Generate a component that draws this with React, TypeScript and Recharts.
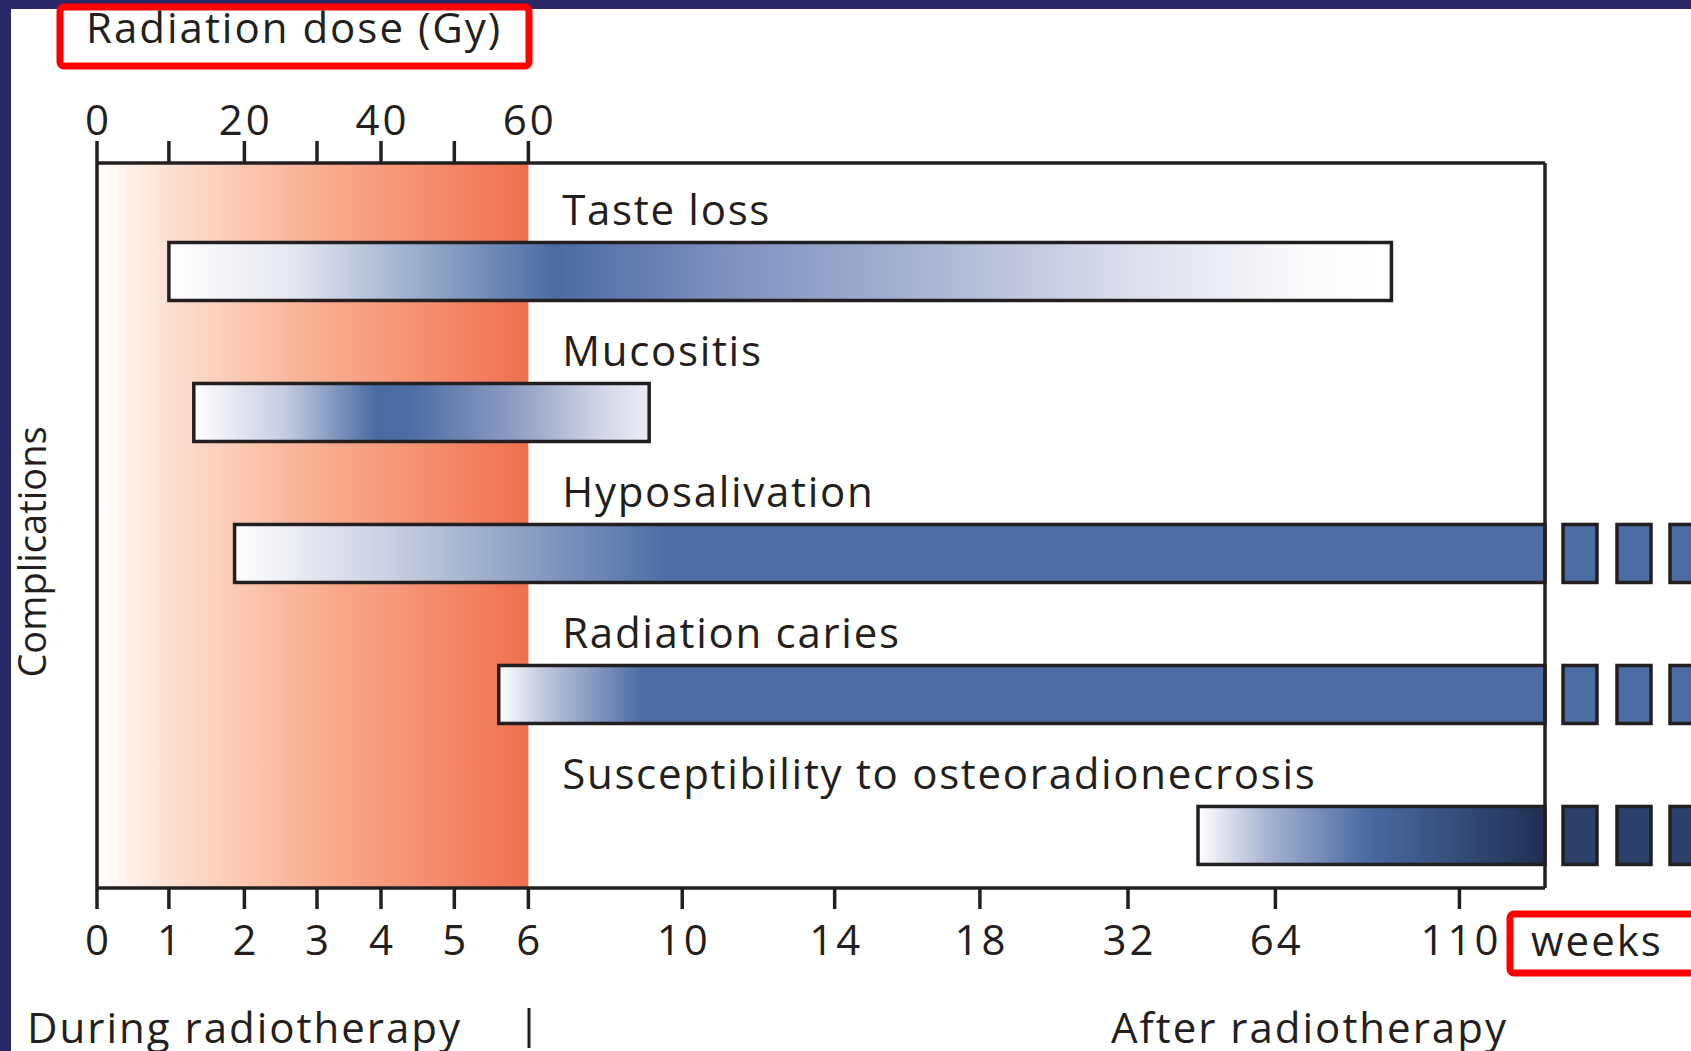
import React from 'react';
import { BarChart, Bar, XAxis, YAxis, ReferenceArea, ReferenceLine } from 'recharts';

// ---- Non-linear time axis (weeks) : tick values and their place along the axis (axis units)
const weekTicks = [0, 1, 2, 3, 4, 5, 6, 10, 14, 18, 32, 64, 110];
const weekTickPos = [0, 1.0, 2.05, 3.06, 3.95, 4.97, 6.0, 8.14, 10.26, 12.28, 14.34, 16.39, 18.95];
const axisEndWeek = 131.5;
const axisEndPos = 20.14;
const radiotherapyWeeks = 6;

// ---- Dose axis (Gy), 10 Gy per week of radiotherapy
const doseTicks = [0, 10, 20, 30, 40, 50, 60];
const doseLabelled = [0, 20, 40, 60];
const gyPerWeek = 10;

// ---- Complications (row 0 at the top)
const complications = [
  'Taste loss',
  'Mucositis',
  'Hyposalivation',
  'Radiation caries',
  'Susceptibility to osteoradionecrosis',
];
const rows = [0, 1, 2, 3, 4];
const rowDomain = [-0.773, 4.369];
const onsetWeeks = [1, 1.33, 1.87, 5.6, 47.2];
const endWeeks = [93, 9.14, 131.5, 131.5, 131.5];
const ongoing = [false, false, true, true, true];
const labelWeek = 6.88;

const gradOffsets = [
  [0, 0.1, 0.317, 0.45, 0.65, 0.8, 0.93, 1],
  [0, 0.2, 0.4, 0.48, 0.7, 0.9, 1],
  [0, 0.12, 0.33, 1],
  [0, 0.05, 0.137, 1],
  [0, 0.2, 0.48, 1],
];
const gradColors = [
  ['#ffffff', '#e6e8f1', '#4a6ba2', '#7d8fbd', '#b3bcd8', '#dfe2ee', '#fbfbfd', '#ffffff'],
  ['#ffffff', '#c6cce1', '#4a6ba2', '#4d6ea4', '#8e9cc3', '#d3d7e7', '#eceef5'],
  ['#ffffff', '#c9cfe2', '#4c6ea4', '#4c6ea4'],
  ['#ffffff', '#b7c0d9', '#4b6ca2', '#4b6ca2'],
  ['#ffffff', '#a9b3d2', '#4b6ca2', '#1f2f52'],
];
const dashColors = ['', '', '#4b6da4', '#4b6da4', '#2b416b'];

const orangeOffsets = [0, 0.15, 0.35, 0.55, 0.8, 1];
const orangeColors = ['#ffffff', '#fde3d7', '#fbc6ae', '#f8a98c', '#f48a6b', '#f0704f'];

const INK = '#231f20';
const FONT = '"Open Sans", "Noto Sans", sans-serif';

function weekToPos(w: number): number {
  const xs = [...weekTicks, axisEndWeek];
  const ps = [...weekTickPos, axisEndPos];
  for (let i = 0; i < xs.length - 1; i++) {
    if (w <= xs[i + 1]) return ps[i] + ((w - xs[i]) / (xs[i + 1] - xs[i])) * (ps[i + 1] - ps[i]);
  }
  return ps[ps.length - 1];
}

const data = complications.map((name, i) => ({
  name,
  idx: i,
  row: rows[i],
  range: [weekToPos(onsetWeeks[i]), weekToPos(endWeeks[i])],
  labelPos: weekToPos(labelWeek),
  ongoing: ongoing[i],
}));

const BarShape = (props: any) => {
  const { x, y, width, height, payload } = props;
  const [s, e] = payload.range;
  const lx = x + ((payload.labelPos - s) / (e - s)) * width;
  const i = payload.idx;
  const dashes = payload.ongoing ? [18, 72, 125] : [];
  return (
    <g>
      <text x={lx} y={y - 17} fill={INK} fontSize={42} letterSpacing={1.7} fontFamily={FONT}>
        {payload.name}
      </text>
      <rect x={x} y={y} width={width} height={height} fill={`url(#grad${i})`} stroke={INK} strokeWidth={3.5} />
      {dashes.map((d) => (
        <rect key={d} x={x + width + d} y={y} width={34} height={height} fill={dashColors[i]} stroke={INK} strokeWidth={3.5} />
      ))}
    </g>
  );
};

const WeekTick = (props: any) => {
  const { x, y, index } = props;
  return (
    <text x={x + 1.5} y={y} dy={38} textAnchor="middle" fill={INK} fontSize={42} letterSpacing={3} fontFamily={FONT}>
      {weekTicks[index]}
    </text>
  );
};

const DoseTick = (props: any) => {
  const { x, y, index } = props;
  const d = doseTicks[index];
  if (!doseLabelled.includes(d)) return <g />;
  return (
    <text x={x + 1.5} y={y} textAnchor="middle" fill={INK} fontSize={42} letterSpacing={3} fontFamily={FONT}>
      {d}
    </text>
  );
};

export default function App() {
  return (
    <div style={{ position: 'absolute', left: 0, top: 0, width: 1691, height: 1051, background: '#2a2968', overflow: 'hidden' }}>
      <div style={{ position: 'absolute', left: 11, top: 9, width: 1680, height: 1042, background: '#ffffff' }} />
      <div style={{ position: 'absolute', left: 0, top: 0 }}>
        <BarChart
          width={1691}
          height={1051}
          data={data}
          layout="vertical"
          margin={{ top: 103, right: 146, bottom: 93, left: 97 }}
        >
          <defs>
            <linearGradient id="orange" x1="0" y1="0" x2="1" y2="0">
              {orangeOffsets.map((o, k) => (
                <stop key={k} offset={o} stopColor={orangeColors[k]} />
              ))}
            </linearGradient>
            {gradOffsets.map((offs, i) => (
              <linearGradient key={i} id={`grad${i}`} x1="0" y1="0" x2="1" y2="0">
                {offs.map((o, k) => (
                  <stop key={k} offset={o} stopColor={gradColors[i][k]} />
                ))}
              </linearGradient>
            ))}
          </defs>
          <XAxis
            xAxisId="weeks"
            type="number"
            orientation="bottom"
            domain={[0, axisEndPos]}
            ticks={weekTicks.map(weekToPos)}
            interval={0}
            height={70}
            tickSize={21}
            tickMargin={8}
            tick={<WeekTick />}
            axisLine={{ stroke: INK, strokeWidth: 3.5 }}
            tickLine={{ stroke: INK, strokeWidth: 3.5 }}
          />
          <XAxis
            xAxisId="dose"
            dataKey="labelPos"
            type="number"
            orientation="top"
            domain={[0, axisEndPos]}
            allowDataOverflow
            ticks={doseTicks.map((d) => weekToPos(d / gyPerWeek))}
            interval={0}
            height={60}
            tickSize={22}
            tickMargin={6}
            tick={<DoseTick />}
            axisLine={{ stroke: INK, strokeWidth: 3.5 }}
            tickLine={{ stroke: INK, strokeWidth: 3.5 }}
          />
          <YAxis type="number" dataKey="row" domain={rowDomain} ticks={rows} allowDataOverflow hide />
          <ReferenceArea
            xAxisId="weeks"
            x1={0}
            x2={weekToPos(radiotherapyWeeks)}
            fill="url(#orange)"
            fillOpacity={1}
            stroke="none"
            ifOverflow="visible"
          />
          <Bar
            xAxisId="weeks"
            dataKey="range"
            barSize={58}
            shape={<BarShape />}
            isAnimationActive={false}
          />
          <ReferenceLine xAxisId="weeks" x={0} stroke={INK} strokeWidth={3.5} ifOverflow="visible" />
          <ReferenceLine xAxisId="weeks" x={axisEndPos} stroke={INK} strokeWidth={3.5} ifOverflow="visible" />
        </BarChart>
      </div>
      <svg width={1691} height={1051} style={{ position: 'absolute', left: 0, top: 0, pointerEvents: 'none' }}>
        <rect x={60} y={7} width={469} height={59} rx={4} fill="none" stroke="#ff0000" strokeWidth={7} />
        <text x={86} y={43} fill={INK} fontSize={42} letterSpacing={2} fontFamily={FONT}>Radiation dose (Gy)</text>
        <text transform="translate(46, 552) rotate(-90)" textAnchor="middle" fill={INK} fontSize={38} fontFamily={FONT}>
          Complications
        </text>
        <rect x={1510} y={914} width={200} height={59} rx={4} fill="none" stroke="#ff0000" strokeWidth={7} />
        <text x={1531} y={956} fill={INK} fontSize={42} letterSpacing={2} fontFamily={FONT}>weeks</text>
        <text x={27} y={1043} fill={INK} fontSize={42} letterSpacing={2} fontFamily={FONT}>During radiotherapy</text>
        <line x1={529} y1={1008} x2={529} y2={1048} stroke={INK} strokeWidth={3} />
        <text x={1111} y={1043} fill={INK} fontSize={42} letterSpacing={2} fontFamily={FONT}>After radiotherapy</text>
      </svg>
    </div>
  );
}
